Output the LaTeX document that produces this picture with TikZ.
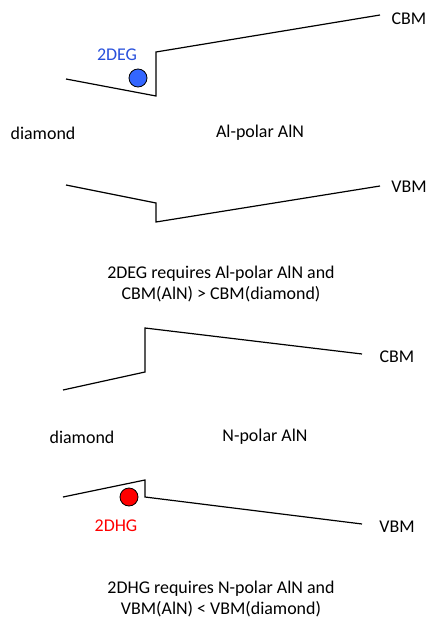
\documentclass[tikz,border=0pt]{standalone}
\usepackage{fontspec}
\setmainfont{Carlito}
\definecolor{egblue}{RGB}{51,102,255}
\definecolor{hgred}{RGB}{255,0,0}
\definecolor{egtext}{RGB}{40,80,220}
\begin{document}
\begin{tikzpicture}[x=1bp,y=-1bp,
  lbl/.style={font=\fontsize{18}{21}\selectfont, inner sep=0pt},
  band/.style={line width=1.2bp, line join=miter},
  carrier/.style={circle, draw=black, line width=0.8bp, minimum size=18bp, inner sep=0pt}]
\useasboundingbox (0,0) rectangle (430,619);
% top panel
\draw[band] (66,79) -- (156,96) -- (156,52) -- (380,15);
\node[lbl] (cbm1) at (409,19) {CBM};
\node[lbl, text=egtext] (deg) at (117,55) {2DEG};
\node[carrier, fill=egblue] (c1) at (138,78) {};
\node[lbl] (dia1) at (43,133) {diamond};
\node[lbl] (al) at (260,133) {Al-polar AlN};
\draw[band] (66,185) -- (156,203) -- (156,222) -- (380,186);
\node[lbl] (vbm1) at (409,187) {VBM};
\node[lbl, align=center] (t1) at (221,284) {2DEG requires Al-polar AlN and\\CBM(AlN) {>} CBM(diamond)};
% bottom panel
\draw[band] (63,390) -- (145,372) -- (145,328) -- (362,354);
\node[lbl] (cbm2) at (397,357) {CBM};
\node[lbl] (dia2) at (82,437) {diamond};
\node[lbl] (np) at (265,437) {N-polar AlN};
\draw[band] (63,497) -- (145,480) -- (145,497) -- (362,524);
\node[carrier, fill=hgred] (c2) at (129,497) {};
\node[lbl, text=hgred] (dhg) at (116,526) {2DHG};
\node[lbl] (vbm2) at (397,527) {VBM};
\node[lbl, align=center] (t2) at (221,599) {2DHG requires N-polar AlN and\\VBM(AlN) {<} VBM(diamond)};
\end{tikzpicture}
\end{document}
